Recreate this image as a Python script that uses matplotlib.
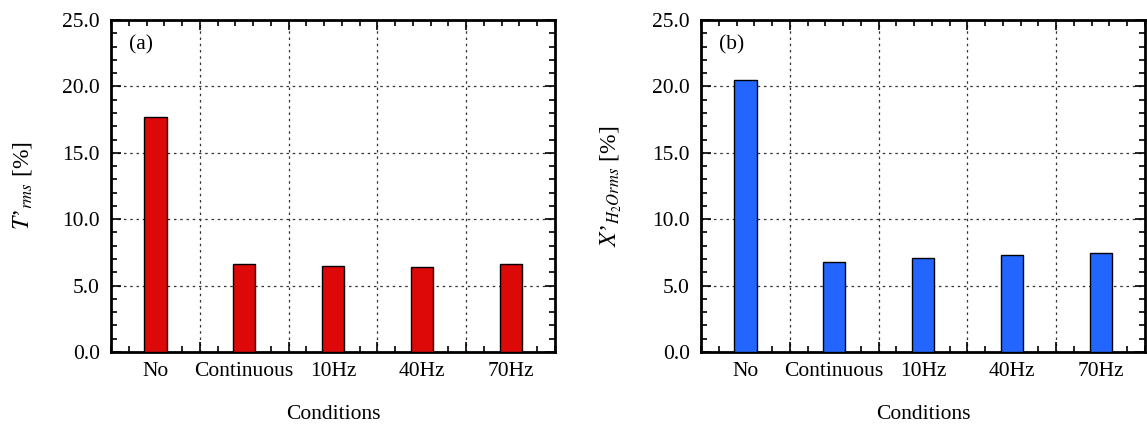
import matplotlib
matplotlib.use("Agg")
import matplotlib.pyplot as plt
import numpy as np
from matplotlib.ticker import FixedLocator, MultipleLocator, FormatStrFormatter

plt.rcParams["font.family"] = ["Liberation Serif", "DejaVu Serif"]
plt.rcParams["mathtext.fontset"] = "stix"

conditions = ["No", "Continuous", "10Hz", "40Hz", "70Hz"]
t_rms = [17.7, 6.6, 6.5, 6.4, 6.65]
x_h2o_rms = [20.5, 6.8, 7.1, 7.3, 7.45]

panels = [
    ("(a)", t_rms, "#dd0808", "$T$\u2019$_{rms}$ [%]"),
    ("(b)", x_h2o_rms, "#2266ff", "$X$\u2019$_{H_2O rms}$ [%]"),
]

fig = plt.figure(figsize=(11.47, 4.25), dpi=100)
lefts = [111 / 1147, 701 / 1147]
pos = np.arange(len(conditions)) + 0.5
fs = 15.5

for left, (tag, vals, color, ylab) in zip(lefts, panels):
    ax = fig.add_axes([left, 73 / 425, 444 / 1147, 332 / 425])
    ax.bar(pos, vals, width=0.25, color=color, edgecolor="black", linewidth=1.0, zorder=3)
    ax.set_xlim(0, len(conditions))
    ax.set_ylim(0, 25)

    # gridlines sit on the category borders, labels sit between them
    ax.xaxis.set_major_locator(FixedLocator(np.arange(1, len(conditions))))
    ax.xaxis.set_minor_locator(MultipleLocator(0.2))
    ax.xaxis.set_major_formatter(plt.NullFormatter())
    ax.yaxis.set_major_locator(MultipleLocator(5))
    ax.yaxis.set_minor_locator(MultipleLocator(1))
    ax.yaxis.set_major_formatter(FormatStrFormatter("%.1f"))

    ax.tick_params(which="both", direction="in", top=True, right=True, width=1.2)
    ax.tick_params(which="major", length=7, labelsize=fs, pad=8)
    ax.tick_params(which="minor", length=4)
    for s in ax.spines.values():
        s.set_linewidth(2)

    ax.grid(True, which="major", linestyle=(0, (2, 3)), color="#333333", linewidth=0.9, zorder=0)

    for xp, name in zip(pos, conditions):
        ax.text(xp, -0.03, name, transform=ax.get_xaxis_transform(),
                ha="center", va="top", fontsize=fs)

    ax.set_xlabel("Conditions", fontsize=fs, labelpad=30)
    ax.set_ylabel(ylab, fontsize=fs + 1.5, labelpad=20)
    ax.text(0.04, 0.925, tag, transform=ax.transAxes, ha="left", va="center", fontsize=fs)

fig.savefig("out.png", dpi=100)
